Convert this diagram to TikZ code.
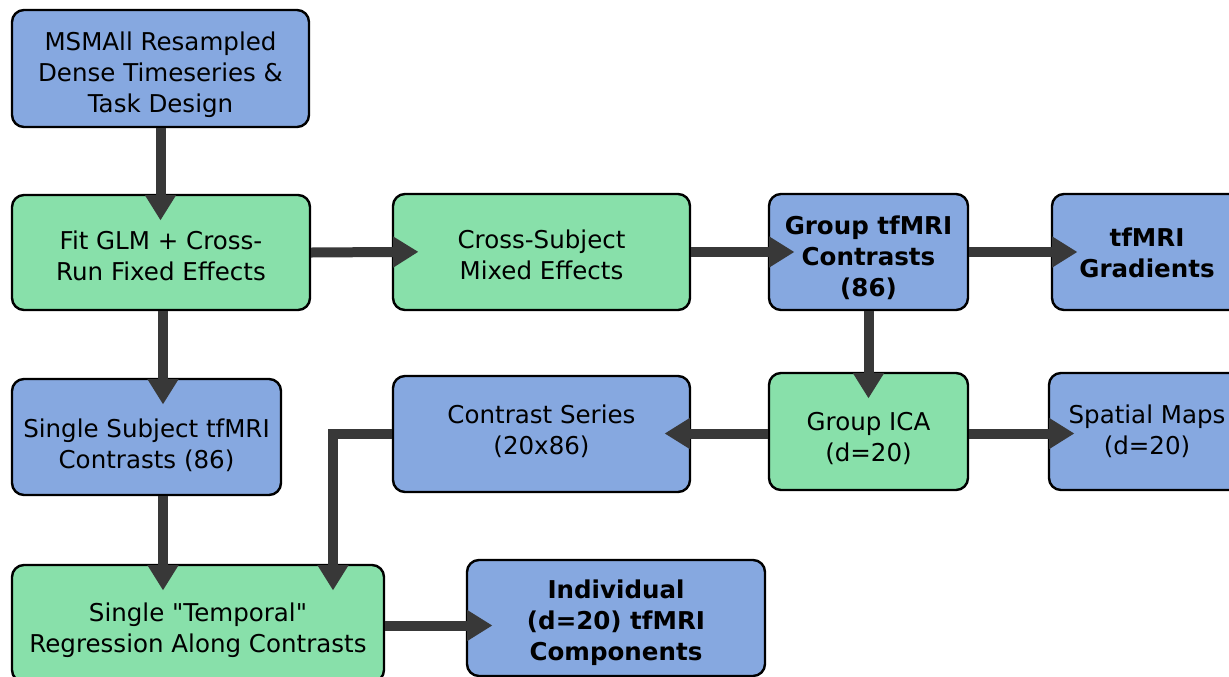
\documentclass[tikz,border=0pt]{standalone}
\usepackage{fontspec}
\setmainfont{DejaVu Sans}
\usetikzlibrary{arrows.meta}
\definecolor{boxblue}{RGB}{134,168,224}
\definecolor{boxgreen}{RGB}{136,224,170}
\definecolor{arrowgray}{RGB}{56,56,56}
\begin{document}
\begin{tikzpicture}[x=0.75pt,y=-0.75pt,
  box/.style={draw=black, line width=1.8pt, rounded corners=9pt, inner sep=0pt},
  databox/.style={box, fill=boxblue},
  procbox/.style={box, fill=boxgreen},
  txt/.style={align=center, inner sep=0pt, font=\fontsize{18.4pt}{23.3pt}\selectfont},
  btxt/.style={txt, font=\fontsize{18.4pt}{23.3pt}\selectfont\bfseries},
  flow/.style={draw=arrowgray, line width=7.5pt, line join=miter,
    -{Triangle[length=19pt,width=22pt]}, shorten >=-20pt}]
\useasboundingbox (0,0) rectangle (1229,676);
\clip (0,0) rectangle (1229,676);

% boxes, each with its caption set slightly off centre
\node[databox, minimum width=222.75pt, minimum height=87.75pt,
  label={[txt, yshift=-4.5pt]center:{MSMAll Resampled\\Dense Timeseries \&\\Task Design}}]
  (msm) at (160.5,68.5) {};
\node[procbox, minimum width=223.5pt, minimum height=86.25pt,
  label={[txt, yshift=-2.6pt]center:{Fit GLM + Cross-\\Run Fixed Effects}}]
  (glm) at (161,252.5) {};
\node[procbox, minimum width=222.75pt, minimum height=87pt,
  label={[txt, yshift=-2.2pt]center:{Cross-Subject\\Mixed Effects}}]
  (cross) at (541.5,252) {};
\node[databox, minimum width=149.25pt, minimum height=87pt,
  label={[btxt, yshift=-4.1pt]center:{Group tfMRI\\Contrasts\\(86)}}]
  (grp) at (868.5,252) {};
\node[databox, minimum width=142.5pt, minimum height=87pt,
  label={[btxt, yshift=-0.8pt]center:{tfMRI\\Gradients}}]
  (grad) at (1147,252) {};
\node[databox, minimum width=201.75pt, minimum height=87pt,
  label={[txt, yshift=-6.4pt]center:{Single Subject tfMRI\\Contrasts (86)}}]
  (single) at (146.5,437) {};
\node[databox, minimum width=222.75pt, minimum height=87pt,
  label={[txt, yshift=2.2pt]center:{Contrast Series\\(20x86)}}]
  (cs) at (541.5,434) {};
\node[procbox, minimum width=149.25pt, minimum height=87.75pt,
  label={[txt, yshift=-5.6pt]center:{Group ICA\\(d=20)}}]
  (ica) at (868.5,431.5) {};
\node[databox, minimum width=147pt, minimum height=87.75pt,
  label={[txt, yshift=0.4pt]center:{Spatial Maps\\(d=20)}}]
  (spat) at (1147,431.5) {};
\node[procbox, minimum width=279pt, minimum height=87.75pt,
  label={[txt, yshift=-4.9pt]center:{Single \textquotedbl Temporal\textquotedbl\\Regression Along Contrasts}}]
  (temp) at (198,623.5) {};
\node[databox, minimum width=223.5pt, minimum height=87pt,
  label={[btxt, yshift=-3.8pt]center:{Individual\\(d=20) tfMRI\\Components}}]
  (ind) at (616,618) {};

% guide columns for the off-centre connectors
\coordinate (colA) at (163,0);
\coordinate (colB) at (333,0);

% connectors
\draw[flow] (msm.south) -- (msm.south |- glm.north);
\draw[flow] (glm.east) -- (cross.west);
\draw[flow] (cross.east) -- (cross.east -| grp.west);
\draw[flow] (grp.east) -- (grad.west);
\draw[flow] (grp.south) -- (ica.north);
\draw[flow] ([yshift=-1.5pt]ica.west) -- ([yshift=-1.5pt]ica.west -| cs.east);
\draw[flow] ([yshift=-1.5pt]ica.east) -- ([yshift=-1.5pt]ica.east -| spat.west);
\draw[flow] (glm.south -| colA) -- (single.north -| colA);
\draw[flow] (single.south -| colA) -- (temp.north -| colA);
\draw[flow] (cs.west) -| (temp.north -| colB);
\draw[flow] ([yshift=-1.5pt]temp.east) -- ([yshift=-1.5pt]temp.east -| ind.west);
\end{tikzpicture}
\end{document}
